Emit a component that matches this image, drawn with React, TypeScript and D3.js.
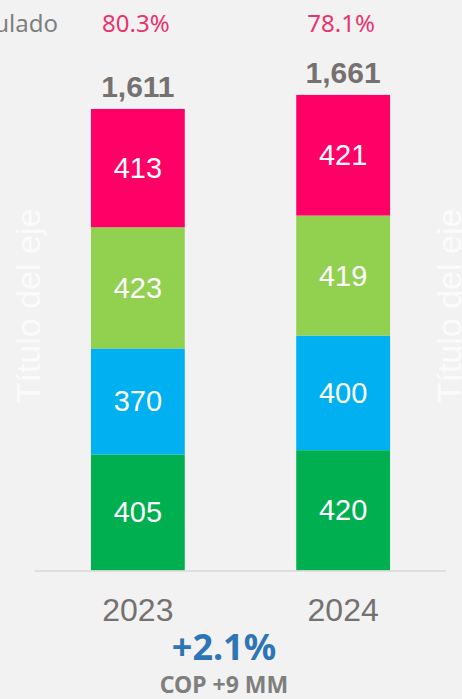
import { useEffect, useRef } from 'react';
import * as d3 from 'd3';

const years = ['2023', '2024'];
const seriesKeys = ['s1', 's2', 's3', 's4'];
const seriesColors = ['#00B050', '#00B0F0', '#92D050', '#FF0066'];
// bottom to top
const s1 = [405, 420];
const s2 = [370, 400];
const s3 = [423, 419];
const s4 = [413, 421];
const totals = [1611, 1661];
const pctLabels = ['80.3%', '78.1%'];

export default function App() {
  const svgRef = useRef<SVGSVGElement>(null);

  useEffect(() => {
    const svg = d3.select(svgRef.current);
    svg.selectAll('*').remove();
    const width = 462;
    const height = 699;

    svg.append('rect').attr('width', width).attr('height', height).attr('fill', '#f2f2f2');

    const rows = years.map((yr, i) => ({ year: yr, s1: s1[i], s2: s2[i], s3: s3[i], s4: s4[i] }));
    const stack = d3.stack<any>().keys(seriesKeys)(rows);

    const x = d3.scaleBand().domain(years).range([35, 446]).paddingInner(0.543).paddingOuter(0.2725);
    const y = d3.scaleLinear().domain([0, 1800]).range([570.5, 54.8]);

    const layers = svg.selectAll('g.layer').data(stack).enter().append('g')
      .attr('fill', (_d, i) => seriesColors[i]);

    layers.selectAll('rect').data((d) => d).enter().append('rect')
      .attr('x', (d: any) => x(d.data.year)!)
      .attr('width', x.bandwidth())
      .attr('y', (d) => y(d[1]))
      .attr('height', (d) => y(d[0]) - y(d[1]));

    layers.selectAll('text').data((d) => d).enter().append('text')
      .attr('x', (d: any) => x(d.data.year)! + x.bandwidth() / 2)
      .attr('y', (d) => (y(d[0]) + y(d[1])) / 2 + 10)
      .attr('text-anchor', 'middle')
      .attr('font-family', 'Liberation Sans, Arial, sans-serif')
      .attr('font-size', 29)
      .attr('fill', '#ffffff')
      .text((d) => d[1] - d[0]);

    // axis line
    svg.append('line')
      .attr('x1', 35).attr('x2', 446)
      .attr('y1', y(0) + 0.5).attr('y2', y(0) + 0.5)
      .attr('stroke', '#d9d9d9').attr('stroke-width', 1.5);

    // totals
    svg.selectAll('text.total').data(totals).enter().append('text')
      .attr('x', (_d, i) => x(years[i])! + x.bandwidth() / 2)
      .attr('y', (d) => y(d) - 12)
      .attr('text-anchor', 'middle')
      .attr('font-family', 'Liberation Sans, Arial, sans-serif')
      .attr('font-weight', 'bold')
      .attr('font-size', 30)
      .attr('fill', '#767171')
      .text((d) => d3.format(',')(d));

    // year labels
    svg.selectAll('text.year').data(years).enter().append('text')
      .attr('x', (d) => x(d)! + x.bandwidth() / 2)
      .attr('y', 621)
      .attr('text-anchor', 'middle')
      .attr('font-family', 'Liberation Sans, Arial, sans-serif')
      .attr('font-size', 32)
      .attr('fill', '#767171')
      .text((d) => d);

    // percentages row
    svg.selectAll('text.pct').data(pctLabels).enter().append('text')
      .attr('x', (_d, i) => x(years[i])! + x.bandwidth() / 2 - 2)
      .attr('y', 32)
      .attr('text-anchor', 'middle')
      .attr('font-family', 'Noto Sans, sans-serif')
      .attr('font-size', 24)
      .attr('fill', '#E8336F')
      .text((d) => d);

    svg.append('text')
      .attr('x', 58).attr('y', 32)
      .attr('text-anchor', 'end')
      .attr('font-family', 'Noto Sans, sans-serif')
      .attr('font-size', 24)
      .attr('fill', '#7f7f7f')
      .text('Acumulado');

    // axis titles
    const titles = [40, 461];
    titles.forEach((tx) => {
      svg.append('text')
        .attr('transform', `translate(${tx},306) rotate(-90)`)
        .attr('text-anchor', 'middle')
        .attr('font-family', 'Liberation Sans, Arial, sans-serif')
        .attr('font-size', 34)
        .attr('fill', '#fbfbfb')
        .text('Título del eje');
    });

    // growth
    svg.append('text')
      .attr('x', 224).attr('y', 660)
      .attr('text-anchor', 'middle')
      .attr('font-family', 'Noto Sans, sans-serif')
      .attr('font-weight', 'bold')
      .attr('font-size', 36)
      .attr('fill', '#2E75B6')
      .text('+2.1%');

    svg.append('text')
      .attr('x', 224).attr('y', 693)
      .attr('text-anchor', 'middle')
      .attr('font-family', 'Noto Sans, sans-serif')
      .attr('font-weight', 'bold')
      .attr('font-size', 23)
      .attr('fill', '#7f7f7f')
      .text('COP +9 MM');
  }, []);

  return (
    <svg ref={svgRef} width={462} height={699}
      style={{ position: 'absolute', left: 0, top: 0, display: 'block' }} />
  );
}
